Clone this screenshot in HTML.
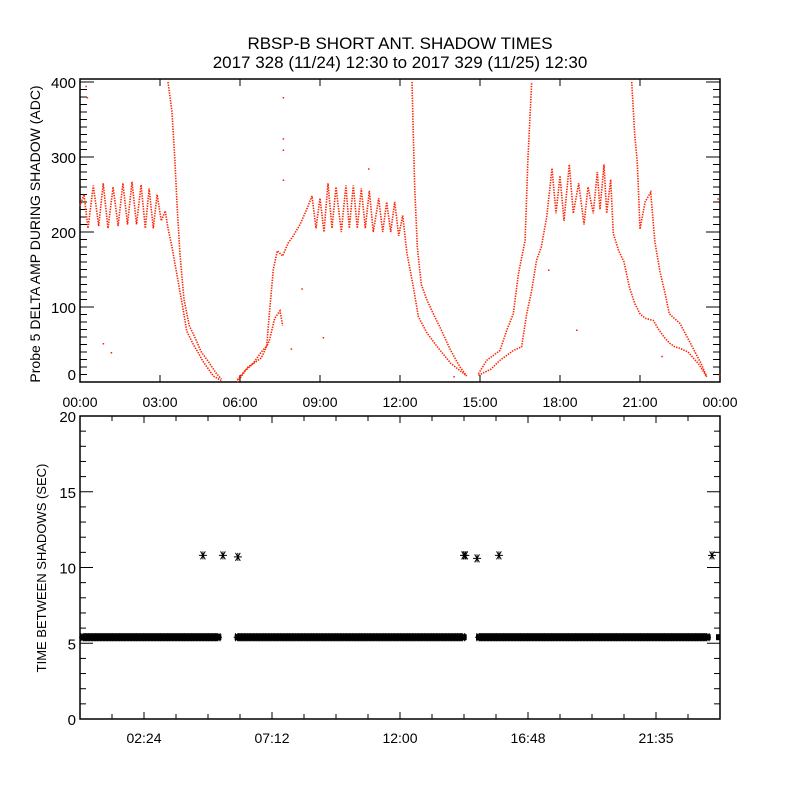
<!DOCTYPE html>
<html><head><meta charset="utf-8"><style>
html,body{margin:0;padding:0;background:#fff;}
svg{display:block;font-family:"Liberation Sans",sans-serif;}
</style></head><body>
<svg id="chart" width="800" height="800" viewBox="0 0 800 800">
<text x="400" y="49" text-anchor="middle" font-size="17">RBSP-B SHORT ANT. SHADOW TIMES</text>
<text x="400" y="68" text-anchor="middle" font-size="17">2017 328 (11/24) 12:30 to 2017 329 (11/25) 12:30</text>
<text transform="translate(40,234) rotate(-90)" text-anchor="middle" font-size="14">Probe 5 DELTA AMP DURING SHADOW (ADC)</text>
<text transform="translate(46,568) rotate(-90)" text-anchor="middle" font-size="13">TIME BETWEEN SHADOWS (SEC)</text>
<g id="top"></g><g id="bot"></g>
</svg>
<script>
// ---------- top panel data (hours, ADC) ----------
const traceA_t=[0,0.15,0.3,0.5,0.7,0.87,1.05,1.24,1.43,1.61,1.78,1.95,2.12,2.29,2.45,2.59,2.75,2.89,3.05,3.2,3.3,3.45,3.6,3.7,3.85,4.0,4.25,4.45,4.6,4.8,5.0,5.3];
const traceA_v=[235,250,205,262,208,265,205,260,208,265,210,267,210,263,205,258,205,250,215,228,205,180,150,130,100,68,50,38,28,18,8,2];
const traceB_t=[3.3,3.45,3.55,3.65,3.75,3.9,4.1,4.3,4.55,4.8,5.1,5.3];
const traceB_v=[400,360,300,230,170,110,75,60,40,28,12,4];
const traceC_t=[5.9,6.2,6.5,6.8,7.0,7.1,7.25,7.4,7.6,7.8,8.0,8.25,8.5,8.7,8.85,9.0,9.15,9.3,9.45,9.6,9.8,9.97,10.1,10.25,10.4,10.55,10.7,10.85,11.0,11.2,11.35,11.5,11.65,11.8,11.95,12.1];
const traceC_v=[0,15,25,40,48,90,150,175,168,185,195,210,230,248,205,245,200,265,205,260,200,262,205,262,205,258,205,255,200,245,200,240,200,240,195,222];
const traceD_t=[5.9,6.3,6.8,7.1,7.3,7.5,7.6];
const traceD_v=[3,20,32,55,85,95,75];
const traceE_t=[12.1,12.26,12.5,12.69,13.0,13.4,13.9,14.5];
const traceE_v=[222,172,127,87,66,47,25,8];
const traceF_t=[12.45,12.5,12.55,12.65,12.8,13.0,13.25,13.5,13.9,14.25,14.5];
const traceF_v=[400,330,260,180,130,110,91,73,42,20,8];
const traceG_t=[14.94,15.4,15.75,16.25,16.56,16.75,16.94,17.12,17.3,17.5,17.7,17.85,18.0,18.15,18.35,18.5,18.7,18.9,19.05,19.25,19.4,19.5,19.65,19.75,19.9,20.0,20.2,20.4,20.6,20.8,21.0,21.2,21.5,21.7,21.9,22.1,22.3,22.5,22.8,23.0,23.2,23.5];
const traceG_v=[9,17,29,42,47,91,122,162,180,220,285,225,275,215,290,225,265,210,260,225,280,230,290,225,270,198,175,160,127,105,91,85,82,70,60,52,47,45,40,32,24,7];
const traceH_t=[14.94,15.25,15.75,16.0,16.25,16.44,16.69,16.8,16.94];
const traceH_v=[11,29,42,69,91,144,189,300,400];
const traceI_t=[20.69,20.8,20.9,21.0,21.19,21.4,21.56,21.75,21.94,22.1,22.5,22.9,23.3,23.5];
const traceI_v=[400,330,293,204,240,253,187,147,118,91,78,51,24,7];
const strayT=[0.2,0.25,0.85,1.15,7.6,7.6,7.6,7.6,8.3,10.8,14.0,18.6,21.8,23.9,23.95,7.9,9.1,17.55];
const strayV=[395,380,52,40,380,325,310,270,125,285,8,70,35,245,10,45,60,150];
// ---------- bottom panel data ----------
const bandStart=[0,5.8,14.85,23.85];
const bandEnd=[5.3,14.5,23.65,24];
const bandVal=[5.4,5.4,5.4,5.4];
const outT=[4.61,5.36,5.92,14.4,14.45,14.89,15.71,23.7];
const outV=[10.8,10.8,10.7,10.8,10.8,10.6,10.8,10.8];
const topTicks=["00:00","03:00","06:00","09:00","12:00","15:00","18:00","21:00","00:00"];
const topYTicks=[0,100,200,300,400];
const botXTicks=["02:24","07:12","12:00","16:48","21:35"];
const botYTicks=[0,5,10,15,20];

const NS="http://www.w3.org/2000/svg";
function mk(tag,attrs,parent){const e=document.createElementNS(NS,tag);for(const k in attrs)e.setAttribute(k,attrs[k]);parent.appendChild(e);return e;}
const L=80,R=720,TT=79,TB=382,BT=416,BB=719;
const xs=h=>L+h*(R-L)/24;
const ytop=v=>Math.max(TT+1,TB-v*0.75);
const ybot=v=>BB-v*(BB-BT)/20;
const gt=document.getElementById('top'), gb=document.getElementById('bot');
const RED="#ff2200";

let fr=mk('rect',{x:L,y:TT,width:R-L,height:TB-TT,fill:'none',stroke:'#000','stroke-width':1.5},gt);


for(let i=0;i<topTicks.length;i++){const x=xs(i*3);
 mk('line',{x1:x,y1:TB,x2:x,y2:TB-7,stroke:'#000'},gt);mk('line',{x1:x,y1:TT,x2:x,y2:TT+7,stroke:'#000'},gt);
 const t=mk('text',{x:x,y:407,'text-anchor':'middle','font-size':14},gt);t.textContent=topTicks[i];
 
 }
for(let v=0;v<=400;v+=10){const y=TB-v*0.75,len=v%100===0?14:7;
 mk('line',{x1:L,y1:y,x2:L+len,y2:y,stroke:'#000'},gt);mk('line',{x1:R,y1:y,x2:R-len,y2:y,stroke:'#000'},gt);}
topYTicks.forEach(v=>{const t=mk('text',{x:76,y:(v===0?TB-2:TB-v*0.75+6),'text-anchor':'end','font-size':15},gt);t.textContent=v;
 
 });
const traces=[[traceA_t,traceA_v],[traceB_t,traceB_v],[traceC_t,traceC_v],[traceD_t,traceD_v],[traceE_t,traceE_v],[traceF_t,traceF_v],[traceG_t,traceG_v],[traceH_t,traceH_v],[traceI_t,traceI_v]];
traces.forEach((tr,i)=>{const pts=tr[0].map((h,j)=>xs(h).toFixed(1)+','+ytop(tr[1][j]).toFixed(1)).join(' ');
 const p=mk('polyline',{points:pts,fill:'none',stroke:RED,'stroke-width':1.6,'stroke-dasharray':'1.4 1.2'},gt);
 
 });
strayT.forEach((h,i)=>{const r=mk('rect',{x:xs(h),y:ytop(strayV[i]),width:1.5,height:1.5,fill:RED},gt);
 
 });

let fb=mk('rect',{x:L,y:BT,width:R-L,height:BB-BT,fill:'none',stroke:'#000','stroke-width':1.5},gb);


for(let k=0;k<=20;k++){const h=k*1.2,x=xs(h),len=(k%4===2)?7:5;
 mk('line',{x1:x,y1:BB,x2:x,y2:BB-len,stroke:'#000'},gb);mk('line',{x1:x,y1:BT,x2:x,y2:BT+len,stroke:'#000'},gb);}
botXTicks.forEach((s,i)=>{const t=mk('text',{x:xs(2.4+i*4.8),y:743,'text-anchor':'middle','font-size':14},gb);t.textContent=s;
 
 });
for(let v=0;v<=20;v++){const y=ybot(v),len=v%5===0?13:6;
 mk('line',{x1:L,y1:y,x2:L+len,y2:y,stroke:'#000'},gb);mk('line',{x1:R,y1:y,x2:R-len,y2:y,stroke:'#000'},gb);}
botYTicks.forEach(v=>{const t=mk('text',{x:76,y:ybot(v)+6,'text-anchor':'end','font-size':15},gb);t.textContent=v;
 
 });
function star(x,y,g,s){const d=`M${x-s},${y}H${x+s}M${x-s*0.6},${y-s}L${x+s*0.6},${y+s}M${x-s*0.6},${y+s}L${x+s*0.6},${y-s}M${x},${y-s}V${y+s}`;
 return mk('path',{d:d,stroke:'#000','stroke-width':1,fill:'none'},g);}
bandStart.forEach((s,i)=>{const x0=xs(s)+3,x1=xs(bandEnd[i])-3,y=ybot(bandVal[i]);
 const g=mk('g',{},gb);
 
 
 mk('rect',{x:x0-3,y:y-3,width:Math.max(2,x1-x0+6),height:6,fill:'#000'},g);
 for(let x=x0;x<=x1;x+=3){star(x,y,g,4);}});
outT.forEach((h,i)=>{const p=star(xs(h),ybot(outV[i]),gb,4);
 
 });
</script>
</body></html>
